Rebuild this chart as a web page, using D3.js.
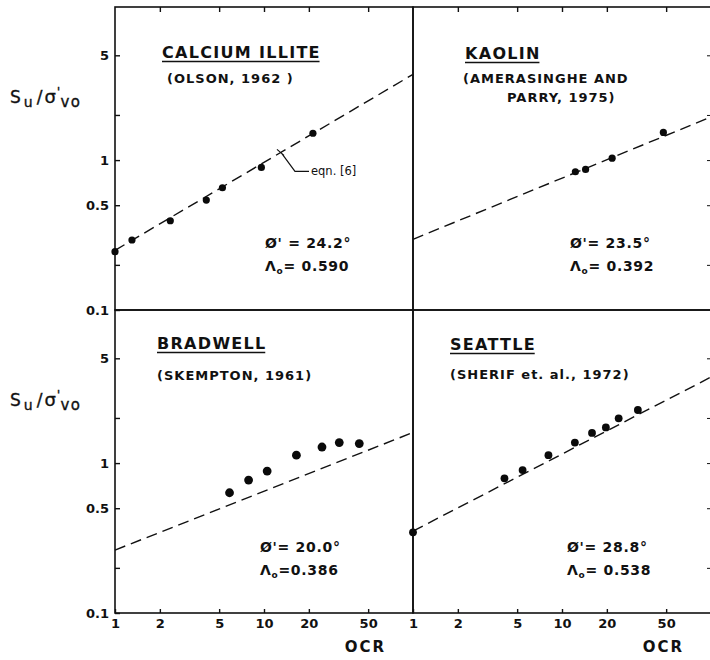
<!DOCTYPE html>
<html>
<head>
<meta charset="utf-8">
<script src="https://cdn.jsdelivr.net/npm/d3@7"></script>
<style>
body{margin:0;background:#fff}
</style>
</head>
<body>
<script>
// data (OCR vs Su/sigma'vo)
var illiteOCR=[1.0,1.3,2.35,4.1,5.26,9.6,21.3]
var illiteSu=[0.245,0.293,0.394,0.541,0.654,0.894,1.51]
var kaolinOCR=[12.3,14.4,21.7,47.9]
var kaolinSu=[0.836,0.867,1.03,1.53]
var bradwellOCR=[5.87,7.88,10.5,16.5,24.5,32.0,43.6]
var bradwellSu=[0.634,0.77,0.884,1.13,1.28,1.37,1.35]
var seattleOCR=[1.0,4.11,5.44,8.11,12.2,15.9,19.7,24.0,32.3]
var seattleSu=[0.345,0.791,0.898,1.13,1.37,1.59,1.73,1.99,2.26]
// eqn [6] dashed line, value at OCR=1 and OCR=100
var lineAt1=[0.25,0.296,0.263,0.352]
var lineAt100=[3.73,1.94,1.60,3.75]
var panelNames=["CALCIUM ILLITE","KAOLIN","BRADWELL","SEATTLE"]
var panelRefs=[["(OLSON, 1962 )"],["(AMERASINGHE AND","PARRY, 1975)"],["(SKEMPTON, 1961)"],["(SHERIF et. al., 1972)"]]
var phiLabels=["\u00d8' = 24.2\u00b0","\u00d8'= 23.5\u00b0","\u00d8'= 20.0\u00b0","\u00d8'= 28.8\u00b0"]
var lambdaLabels=["= 0.590","= 0.392","=0.386","= 0.538"]
var xTicks=[1,2,5,10,20,50]
var yTicks=[0.1,0.2,0.5,1,2,5]
var yLabels=[0.1,0.5,1,5]

var panels=[
  {ocr:illiteOCR,su:illiteSu,col:0,row:0,r:3.6,name:[162,58],ref:[167,83],stat:[265,248]},
  {ocr:kaolinOCR,su:kaolinSu,col:1,row:0,r:3.6,name:[465,59],ref:[463,83],stat:[570,248]},
  {ocr:bradwellOCR,su:bradwellSu,col:0,row:1,r:4.4,name:[157,349],ref:[157,380],stat:[260,552]},
  {ocr:seattleOCR,su:seattleSu,col:1,row:1,r:3.9,name:[450,350],ref:[450,379],stat:[567,552]}
]

var colX=[115,413], rowBottom=[310,613]
var pw=298, ph=303

var svg=d3.select("body").append("svg")
          .attr("width",710)
          .attr("height",660)
          .attr("font-family","DejaVu Sans, sans-serif")
          .attr("font-weight","bold")
          .attr("fill","#111")

panels.forEach(function(p,i){
  var x=d3.scaleLog().domain([1,100]).range([colX[p.col],colX[p.col]+pw])
  var y=d3.scaleLog().domain([0.1,10.5]).range([rowBottom[p.row],rowBottom[p.row]-ph])
  var g=svg.append("g")

  g.append("rect")
   .attr("x",colX[p.col]).attr("y",rowBottom[p.row]-ph)
   .attr("width",pw).attr("height",ph)
   .attr("fill","none").attr("stroke","#111").attr("stroke-width",1.6)

  // bottom axis on lower panels, tick marks on top of upper panels
  if(p.row==1){
    var xa=g.append("g")
      .attr("transform","translate(0,"+rowBottom[p.row]+")")
      .call(d3.axisBottom(x).tickValues(xTicks).tickSize(-4).tickSizeOuter(0).tickPadding(6)
        .tickFormat(function(d){return d}))
    xa.select(".domain").remove()
    xa.attr("font-family",null).attr("font-size",null)
    xa.selectAll("text").attr("font-size","13px").attr("fill","#111")
    xa.selectAll("line").attr("stroke","#111").attr("stroke-width",1.4)
    g.append("text")
     .attr("x",x(48)).attr("y",652)
     .attr("text-anchor","middle")
     .attr("font-size","15px").attr("letter-spacing","2px")
     .text("OCR")
  } else {
    var xt=g.append("g")
      .attr("transform","translate(0,"+(rowBottom[p.row]-ph)+")")
      .call(d3.axisTop(x).tickValues(xTicks.slice(1)).tickSize(-5).tickSizeOuter(0).tickFormat(""))
    xt.select(".domain").remove()
    xt.selectAll("line").attr("stroke","#111").attr("stroke-width",1.4)
  }

  if(p.col==0){
    var ya=g.append("g")
      .attr("transform","translate("+colX[0]+",0)")
      .call(d3.axisLeft(y).tickValues(yTicks).tickSize(-5).tickSizeOuter(0).tickPadding(6)
        .tickFormat(function(d){return yLabels.indexOf(d)>=0?d:""}))
    ya.select(".domain").remove()
    ya.attr("font-family",null).attr("font-size",null)
    ya.selectAll("text").attr("font-size","13px").attr("fill","#111")
    ya.selectAll("line").attr("stroke","#111").attr("stroke-width",1.4)

    var yl=g.append("text").attr("x",10).attr("y",rowBottom[p.row]-207)
      .attr("font-size","17px").attr("font-weight","normal")
      .attr("stroke","#111").attr("stroke-width",0.35)
    yl.append("tspan").text("S")
    yl.append("tspan").attr("font-size","14px").attr("dy",4).attr("dx",3).text("u")
    yl.append("tspan").attr("dy",-4).attr("dx",4).text("/")
    yl.append("tspan").attr("dx",2).attr("font-size","18px").text("\u03c3")
    yl.append("tspan").attr("font-size","13px").attr("dy",-7).attr("dx",1).text("'")
    yl.append("tspan").attr("font-size","15px").attr("dy",11).attr("dx",0).attr("letter-spacing","1.5px").text("vo")
  } else {
    var yr=g.append("g")
      .attr("transform","translate("+(colX[1]+pw)+",0)")
      .call(d3.axisRight(y).tickValues(yTicks.slice(1)).tickSize(-4).tickSizeOuter(0).tickFormat(""))
    yr.select(".domain").remove()
    yr.selectAll("line").attr("stroke","#111")
  }

  // eqn [6] dashed line
  g.append("line")
   .attr("x1",x(1)).attr("y1",y(lineAt1[i]))
   .attr("x2",x(100)).attr("y2",y(lineAt100[i]))
   .attr("stroke","#111").attr("stroke-width",1.4)
   .attr("stroke-dasharray","11,6")

  g.selectAll("circle")
   .data(p.ocr)
   .enter()
   .append("circle")
   .attr("cx",function(d){return x(d)})
   .attr("cy",function(d,j){return y(p.su[j])})
   .attr("r",p.r)
   .attr("fill","#0a0a0a")

  // panel title, underlined
  var t=g.append("text")
   .attr("x",p.name[0]).attr("y",p.name[1])
   .attr("font-size","16px").attr("letter-spacing","1.3px")
   .text(panelNames[i])
  var w=t.node().getComputedTextLength()-1.3
  g.append("line")
   .attr("x1",p.name[0]).attr("x2",p.name[0]+w)
   .attr("y1",p.name[1]+3.5).attr("y2",p.name[1]+3.5)
   .attr("stroke","#111").attr("stroke-width",1.7)

  panelRefs[i].forEach(function(s,k){
    g.append("text")
     .attr("x",p.ref[0]+(k==1?44:0)).attr("y",p.ref[1]+k*19)
     .attr("font-size","13px").attr("letter-spacing","1px")
     .text(s)
  })

  g.append("text")
   .attr("x",p.stat[0]).attr("y",p.stat[1])
   .attr("font-size","14px").attr("letter-spacing","0.7px")
   .text(phiLabels[i])
  var lt=g.append("text")
   .attr("x",p.stat[0]).attr("y",p.stat[1]+23)
   .attr("font-size","14px").attr("letter-spacing","0.7px")
  lt.append("tspan").text("\u039b")
  lt.append("tspan").attr("font-size","9px").attr("dy",3).text("o")
  lt.append("tspan").attr("dy",-3).text(lambdaLabels[i])

  if(i==0){
    // leader to eqn. [6]
    var ax=x(13), ay=y(lineAt1[0]*Math.pow(13,Math.log10(lineAt100[0]/lineAt1[0])/2))
    g.append("path")
     .attr("d","M"+(ax-4)+","+(ay-3)+"L"+(ax+3)+","+(ay+3)+"M"+ax+","+ay+"L"+(ax+14)+","+(ay+19)+"L"+(ax+28)+","+(ay+19))
     .attr("fill","none").attr("stroke","#111").attr("stroke-width",1.2)
    g.append("text")
     .attr("x",ax+30).attr("y",ay+23)
     .attr("font-size","11.5px").attr("font-weight","normal")
     .text("eqn. [6]")
  }
})
</script>
</body>
</html>
